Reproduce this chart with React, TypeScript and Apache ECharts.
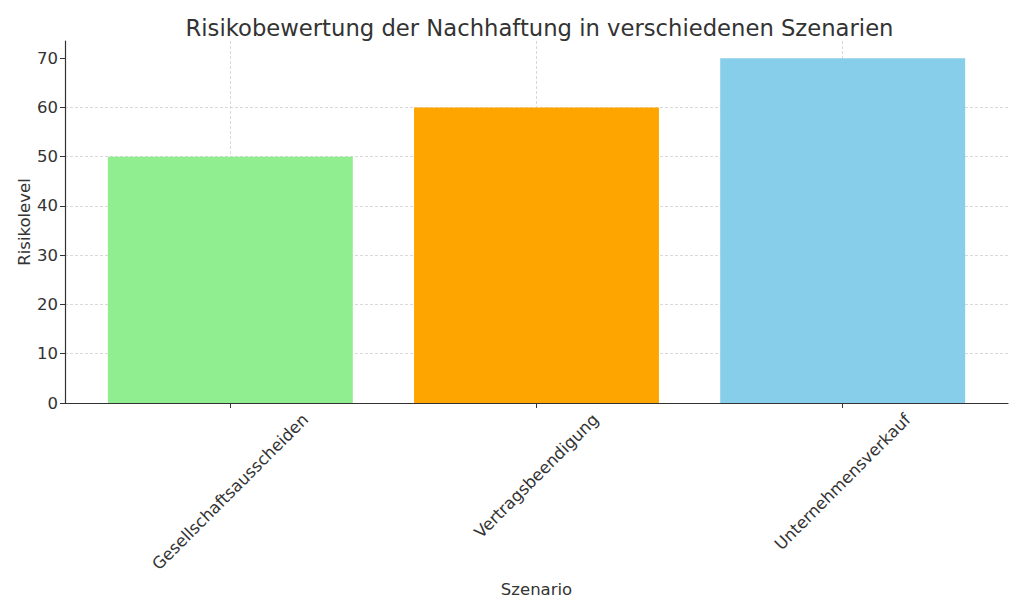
import React, { useEffect, useRef } from "react";
import * as echarts from "echarts";

const categories = ["Gesellschaftsausscheiden", "Vertragsbeendigung", "Unternehmensverkauf"];
const values = [50, 60, 70];
const barColors = ["#90EE90", "#FFA500", "#87CEEB"];
const yTicks = [0, 10, 20, 30, 40, 50, 60, 70];
const titleText = "Risikobewertung der Nachhaftung in verschiedenen Szenarien";
const xName = "Szenario";
const yName = "Risikolevel";

const FONT = "'DejaVu Sans', 'Noto Sans', sans-serif";
const TEXT = "#333333";
const FS = 16.5;

function measure(text: string, size: number): number {
  const c = document.createElement("canvas").getContext("2d");
  if (!c) return text.length * size * 0.55;
  c.font = `${size}px 'DejaVu Sans'`;
  return c.measureText(text).width;
}

export default function App() {
  const ref = useRef<HTMLDivElement>(null);
  useEffect(() => {
    if (!ref.current) return;
    const chart = echarts.init(ref.current, undefined, { renderer: "svg" });

    const yMax = Math.max(...values) * 1.05;
    const xMin = -0.54;
    const xMax = categories.length - 1 + 0.54;
    const gLeft = 65;
    const gRight = 1024 - 1008;
    const gTop = 41;
    const gBottom = 614 - 403;
    const plotW = 1024 - gLeft - gRight;
    const unit = plotW / (xMax - xMin);
    const firstX = gLeft + (0 - xMin) * unit;
    const lastX = gLeft + (categories.length - 1 - xMin) * unit;

    const catData = categories.map((c) => {
      const w = measure(c, FS);
      const D = 7 + (w + 1.16 * FS) / (2 * Math.SQRT2);
      const pt = Math.max(0, D / Math.SQRT2 - FS / 2);
      const pr = Math.SQRT2 * D;
      return {
        value: c,
        textStyle: {
          align: "center",
          verticalAlign: "top",
          lineHeight: FS,
          fontSize: FS,
          fontFamily: FONT,
          color: TEXT,
          padding: [pt, pr, 0, 0],
        },
      };
    });

    const gridLine = { show: true, lineStyle: { color: "#cfcfcf", width: 0.8, type: [3, 2] as any } };

    chart.setOption({
      animation: false,
      backgroundColor: "#ffffff",
      textStyle: { fontFamily: FONT },
      title: {
        text: titleText,
        left: gLeft + plotW / 2 - 2,
        textAlign: "center",
        top: 11,
        textStyle: { fontFamily: FONT, fontSize: 22.7, fontWeight: "normal", color: TEXT },
      },
      grid: [
        { left: gLeft, right: gRight, top: gTop, bottom: gBottom, outerBoundsMode: "none" },
        { left: firstX, right: 1024 - lastX, top: gTop, bottom: gBottom, outerBoundsMode: "none" },
      ],
      xAxis: [
        {
          type: "value",
          gridIndex: 0,
          min: xMin,
          max: xMax,
          axisLine: { show: true, onZero: false, lineStyle: { color: TEXT, width: 1.2 } },
          axisTick: { show: false },
          axisLabel: { show: false },
          splitLine: { show: false },
          name: xName,
          nameLocation: "middle",
          nameGap: 178,
          nameMoveOverlap: false,
          nameTextStyle: { fontFamily: FONT, fontSize: FS, color: TEXT },
        },
        {
          type: "category",
          gridIndex: 1,
          data: catData,
          boundaryGap: false,
          axisLine: { show: false, onZero: false },
          axisTick: { show: true, length: 5, lineStyle: { color: TEXT, width: 1 } },
          axisLabel: {
            interval: 0,
            rotate: 45,
            margin: 0,
            align: "center",
            verticalAlign: "top",
            lineHeight: FS,
            fontSize: FS,
            fontFamily: FONT,
            color: TEXT,
            showMinLabel: true,
            showMaxLabel: true,
            hideOverlap: false,
          },
          splitLine: gridLine,
        },
      ],
      yAxis: [
        {
          type: "value",
          gridIndex: 0,
          min: 0,
          max: yMax,
          axisLine: { show: true, onZero: false, lineStyle: { color: TEXT, width: 1.2 } },
          axisTick: { show: true, length: 5, lineStyle: { color: TEXT }, customValues: yTicks },
          axisLabel: {
            customValues: yTicks,
            fontSize: FS,
            fontFamily: FONT,
            color: TEXT,
            margin: 7,
          },
          splitLine: { ...gridLine, showMinLine: false, showMaxLine: false },
          name: yName,
          nameLocation: "middle",
          nameRotate: 90,
          nameGap: 32,
          nameMoveOverlap: false,
          nameTextStyle: { fontFamily: FONT, fontSize: FS, color: TEXT },
        },
        {
          type: "value",
          gridIndex: 1,
          min: 0,
          max: yMax,
          show: false,
        },
      ],
      series: [
        {
          type: "bar",
          xAxisIndex: 1,
          yAxisIndex: 1,
          barWidth: 0.8 * unit,
          clip: false,
          data: values.map((v, i) => ({ value: v, itemStyle: { color: barColors[i] } })),
        },
      ],
    });
    return () => chart.dispose();
  }, []);
  return (
    <div
      ref={ref}
      style={{ position: "fixed", left: 0, top: 0, width: 1024, height: 614, background: "#fff" }}
    />
  );
}
